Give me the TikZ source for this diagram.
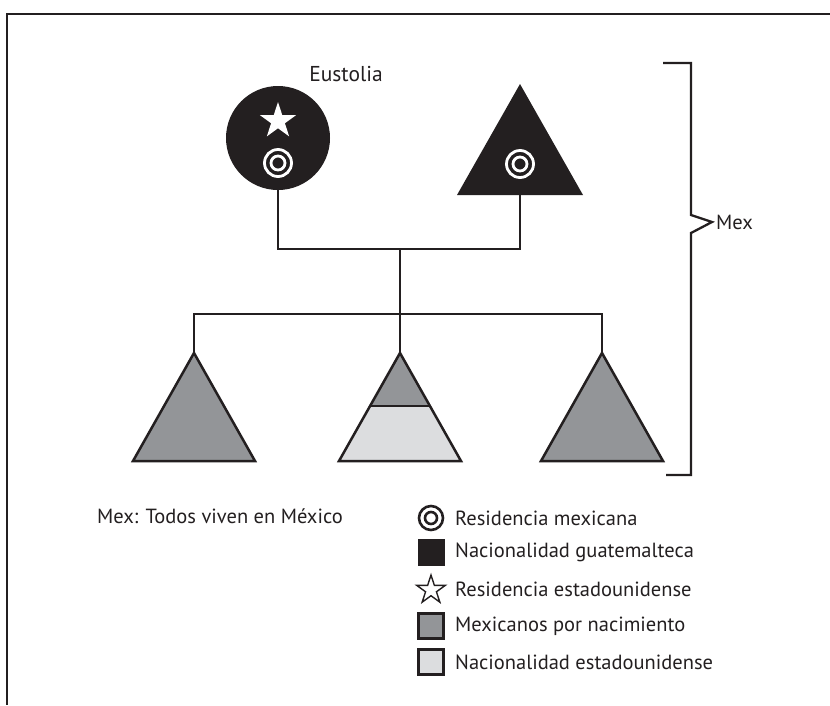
\documentclass[tikz,border=0pt]{standalone}
\usepackage{fontspec}
\setmainfont{PT Sans}
\usetikzlibrary{shapes.geometric,positioning}
\definecolor{pedblack}{RGB}{35,31,32}
\definecolor{pedgray}{RGB}{147,149,152}
\definecolor{pedlight}{RGB}{220,221,223}
\tikzset{
  pline/.style  ={line width=2.3pt, pedblack},
  pframe/.style ={line width=2.6pt, pedblack},
  pfemale/.style={circle, fill=pedblack, minimum size=104pt, inner sep=0pt},
  ptri/.style   ={line width=2.5pt, draw=pedblack, line join=miter},
  pring/.style  ={circle, draw=white, line width=2.8pt, inner sep=0pt},
  pringL/.style ={circle, draw=pedblack, line width=2.6pt, inner sep=0pt},
  pstar/.style  ={star, star points=5, star point ratio=2.618, inner sep=0pt},
  pkey/.style   ={rectangle, inner sep=0pt, minimum size=27pt},
  pkeyline/.style={rectangle, inner sep=0pt, minimum size=25pt,
                   draw=pedblack, line width=2.4pt},
  plabel/.style ={font=\fontsize{20.5}{24}\selectfont, text=pedblack, inner sep=0pt},
}
\begin{document}
\begin{tikzpicture}[x=1pt, y=-1pt]
\useasboundingbox (0,0) rectangle (830,705);
% frame
\draw[pframe] (830,14) -- (7,14) -- (7,705);
% parents
\node[pfemale] (eustolia) at (278,138) {};
\node[plabel, font=\fontsize{21.5}{24}\selectfont] (eustname) at (346,74) {Eustolia};
\node[pstar, fill=white, minimum size=38pt] (estar) at (278,121) {};
\node[pring, minimum size=27pt] (eres) at (278,163) {};
\node[pring, minimum size=14pt] at (eres) {};
\coordinate (fapex) at (520,84);
\coordinate (fbase) at (520,195);
\fill[pedblack] (fapex) -- ++(63,111) -- ++(-126,0) -- cycle;
\node[pring, minimum size=27pt] (fres) at (520,164) {};
\node[pring, minimum size=14pt] at (fres) {};
% children
\coordinate (couple) at (400,249);
\coordinate (sibs) at (400,314);
\foreach \n/\x in {kidA/194, kidB/400, kidC/602}
    \coordinate (\n) at (\x,353);
\foreach \n in {kidA,kidC}
    \filldraw[ptri, fill=pedgray] (\n) -- ++(61,108) -- ++(-122,0) -- cycle;
\fill[pedlight] (kidB) -- ++(61,108) -- ++(-122,0) -- cycle;
\fill[pedgray] (kidB) -- ++(29.9,53) -- ++(-59.8,0) -- cycle;
\draw[ptri] (kidB) -- ++(61,108) -- ++(-122,0) -- cycle;
\draw[ptri] (kidB) ++(-29.9,53) -- ++(59.8,0);
% lines of descent
\draw[pline] (eustolia.south) |- (couple) -| (fbase);
\draw[pline] (couple) -- (kidB);
\draw[pline] (kidA) -- (kidA |- sibs) -- (kidC |- sibs) -- (kidC);
% bracket
\coordinate (brtip) at (712,222);
\draw[pline] (663,63) -- (691,63) -- (691,215) -- (brtip) -- (691,233)
    -- (691,475) -- (666,475);
\node[plabel, anchor=west] (mexlab) at (716,222) {Mex};
% note and legend
\node[plabel, anchor=west] (note) at (97,516) {Mex: Todos viven en México};
\foreach \i/\y/\txt in {1/518/Residencia mexicana,
                        2/552/Nacionalidad guatemalteca,
                        3/589/Residencia estadounidense,
                        4/626/Mexicanos por nacimiento,
                        5/662/Nacionalidad estadounidense}
    \node[plabel, anchor=west] (leg\i) at (455,\y) {\txt};
\node[pringL, minimum size=24pt] (keyres) at (431,518) {};
\node[pringL, minimum size=12pt] at (keyres) {};
\node[pkey, fill=pedblack] (keyguat) at (431,552) {};
\node[pstar, draw=pedblack, line width=1.4pt, minimum size=30pt] (keystar) at (431,590) {};
\node[pkeyline, fill=pedgray] (keymex) at (431,626) {};
\node[pkeyline, fill=pedlight] (keyusa) at (431,662) {};
\end{tikzpicture}
\end{document}
